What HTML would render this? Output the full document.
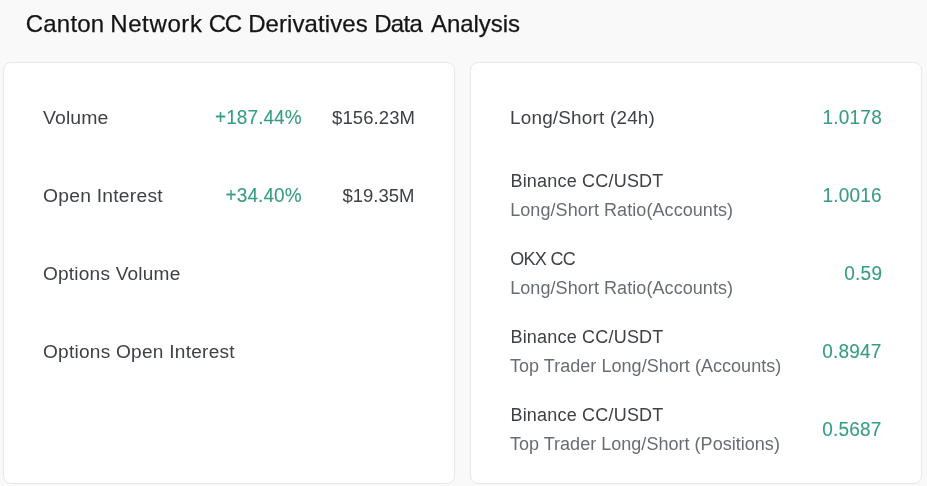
<!DOCTYPE html>
<html>
<head>
<meta charset="utf-8">
<style>
html, body { margin:0; padding:0; }
body { width:927px; height:486px; background:#f9f9f9; position:relative; overflow:hidden;
  font-family:"Liberation Sans", sans-serif; }
.t { position:absolute; white-space:nowrap; line-height:1; transform:translateZ(0); transform-origin:0 15px; }
.title { font-size:24px; color:#151515; -webkit-text-stroke:0.25px #151515; }
.card { position:absolute; top:62px; width:450px; height:420px; background:#fff;
  border:1px solid #e8e8e8; border-radius:8px; }
#c1 { left:3px; }
#c2 { left:470px; }
.lab { font-size:18px; color:#3e4146; }
.sub { font-size:18px; color:#686c74; }
.grn { font-size:19px; color:#379c84; -webkit-text-stroke:0.1px #379c84; transform-origin:0 16px; }
.val { font-size:18.5px; color:#3e4146; }
.r { text-align:right; }
/*FIT*/
#t1{left:25.79px;top:11.91px;letter-spacing:0.202px}
#t2{left:110.19px;top:11.91px;letter-spacing:0.628px}
#t3{left:208.80px;top:11.91px;letter-spacing:-1.281px}
#t4{left:248.19px;top:11.91px;letter-spacing:0.076px}
#t5{left:374.21px;top:11.91px;letter-spacing:-0.686px}
#t6{left:431.10px;top:11.91px;letter-spacing:-0.068px}
#l1{left:43.17px;top:108.50px;letter-spacing:0.084px;transform:translateZ(0) scale(1.0800,1.0000)}
#l2{left:215.06px;top:107.50px;letter-spacing:0.072px;transform:translateZ(0) scale(1.0000,1.0600)}
#l3{left:332.10px;top:108.50px;letter-spacing:0.078px}
#l4{left:43.10px;top:186.50px;letter-spacing:0.232px;transform:translateZ(0) scale(1.0700,1.0000)}
#l5{left:225.52px;top:185.50px;letter-spacing:0.106px;transform:translateZ(0) scale(1.0000,1.0600)}
#l6{left:342.39px;top:186.50px;letter-spacing:0.004px}
#l7{left:43.10px;top:264.50px;letter-spacing:0.188px;transform:translateZ(0) scale(1.0600,1.0000)}
#l8{left:43.10px;top:342.50px;letter-spacing:0.233px;transform:translateZ(0) scale(1.0600,1.0000)}
#r1{left:509.83px;top:108.50px;letter-spacing:0.192px;transform:translateZ(0) scale(1.0500,1.0000)}
#r2{left:822.56px;top:107.50px;letter-spacing:0.207px;transform:translateZ(0) scale(1.0000,1.0600)}
#r3{left:510.44px;top:171.81px;letter-spacing:0.202px}
#r4{left:510.17px;top:200.80px;letter-spacing:0.073px}
#r5{left:822.56px;top:185.50px;letter-spacing:0.192px;transform:translateZ(0) scale(1.0000,1.0600)}
#r6{left:510.16px;top:249.80px;letter-spacing:-0.667px}
#r7{left:510.17px;top:278.80px;letter-spacing:0.073px}
#r8{left:844.13px;top:263.50px;letter-spacing:0.306px;transform:translateZ(0) scale(1.0000,1.0600)}
#r9{left:510.44px;top:327.81px;letter-spacing:0.202px}
#r10{left:509.97px;top:356.81px;letter-spacing:0.038px}
#r11{left:822.36px;top:341.50px;letter-spacing:0.161px;transform:translateZ(0) scale(1.0000,1.0600)}
#r12{left:510.44px;top:405.81px;letter-spacing:0.202px}
#r13{left:509.89px;top:434.80px;letter-spacing:0.027px}
#r14{left:822.29px;top:419.50px;letter-spacing:0.183px;transform:translateZ(0) scale(1.0000,1.0600)}
/*ENDFIT*/
</style>
</head>
<body>
<div class="t title" id="t1">Canton</div><div class="t title" id="t2">Network</div><div class="t title" id="t3">CC</div><div class="t title" id="t4">Derivatives</div><div class="t title" id="t5">Data</div><div class="t title" id="t6">Analysis</div>
<div class="card" id="c1"></div>
<div class="card" id="c2"></div>

<!-- left card -->
<div class="t lab" id="l1">Volume</div>
<div class="t grn" id="l2">+187.44%</div>
<div class="t val" id="l3">$156.23M</div>
<div class="t lab" id="l4">Open Interest</div>
<div class="t grn" id="l5">+34.40%</div>
<div class="t val" id="l6">$19.35M</div>
<div class="t lab" id="l7">Options Volume</div>
<div class="t lab" id="l8">Options Open Interest</div>

<!-- right card -->
<div class="t lab" id="r1">Long/Short (24h)</div>
<div class="t grn" id="r2">1.0178</div>
<div class="t lab" id="r3">Binance CC/USDT</div>
<div class="t sub" id="r4">Long/Short Ratio(Accounts)</div>
<div class="t grn" id="r5">1.0016</div>
<div class="t lab" id="r6">OKX CC</div>
<div class="t sub" id="r7">Long/Short Ratio(Accounts)</div>
<div class="t grn" id="r8">0.59</div>
<div class="t lab" id="r9">Binance CC/USDT</div>
<div class="t sub" id="r10">Top Trader Long/Short (Accounts)</div>
<div class="t grn" id="r11">0.8947</div>
<div class="t lab" id="r12">Binance CC/USDT</div>
<div class="t sub" id="r13">Top Trader Long/Short (Positions)</div>
<div class="t grn" id="r14">0.5687</div>
</body>
</html>
